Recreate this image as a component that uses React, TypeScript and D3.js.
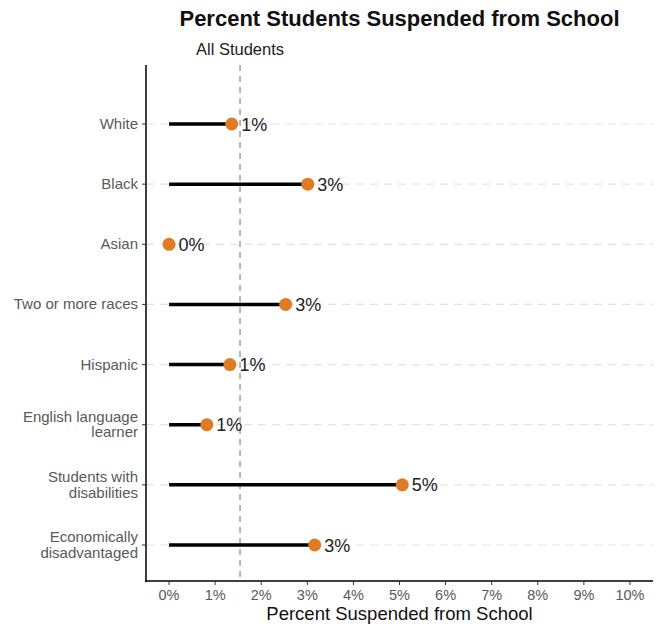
import React from "react";
import * as d3 from "d3";

const categories: string[][] = [
  ["White"],
  ["Black"],
  ["Asian"],
  ["Two or more races"],
  ["Hispanic"],
  ["English language", "learner"],
  ["Students with", "disabilities"],
  ["Economically", "disadvantaged"],
];
const values: number[] = [1.36, 3.01, 0.0, 2.53, 1.32, 0.82, 5.06, 3.16];
const valueLabels: string[] = ["1%", "3%", "0%", "3%", "1%", "1%", "5%", "3%"];
const allStudents = 1.54;
const xTicks: number[] = [0, 1, 2, 3, 4, 5, 6, 7, 8, 9, 10];

const W = 658;
const H = 624;
const left = 146;
const right = 653;
const top = 65;
const bottom = 581;

export default function App() {
  const x = d3.scaleLinear().domain([-0.5, 10.5]).range([left, right]);
  const idx = categories.map((_, i) => String(i));
  const y = d3.scalePoint<string>().domain(idx).range([124, 545]);
  const font = "'Liberation Sans', Arial, Helvetica, sans-serif";
  const orange = "#E07B25";

  return (
    <svg
      width={W}
      height={H}
      style={{ position: "absolute", left: 0, top: 0, background: "#fff" }}
      fontFamily={font}
    >
      <text x={(left + right) / 2} y={26} textAnchor="middle" fontSize={22} fontWeight="bold" fill="#111">
        Percent Students Suspended from School
      </text>

      {/* gridlines */}
      {idx.map((k) => (
        <line key={"g" + k} x1={left} x2={right} y1={y(k)} y2={y(k)} stroke="#e3e3e3" strokeWidth={1.2} strokeDasharray="8,6" />
      ))}

      {/* all students line */}
      <line x1={x(allStudents)} x2={x(allStudents)} y1={top} y2={bottom} stroke="#888" strokeWidth={1.2} strokeDasharray="6,5" />
      <text x={x(allStudents)} y={55} textAnchor="middle" fontSize={16.5} fill="#222">
        All Students
      </text>

      {/* segments and dots */}
      {values.map((v, i) => (
        <g key={"s" + i}>
          <line x1={x(0)} x2={x(v)} y1={y(String(i))} y2={y(String(i))} stroke="#000" strokeWidth={3.5} />
          <circle cx={x(v)} cy={y(String(i))} r={6.5} fill={orange} />
          <text x={x(v) + 9.5} y={y(String(i))! + 6.5} fontSize={18} fill="#222">
            {valueLabels[i]}
          </text>
        </g>
      ))}

      {/* axes */}
      <line x1={left} x2={left} y1={top} y2={bottom + 1} stroke="#000" strokeWidth={1.5} />
      <line x1={left - 1} x2={right} y1={bottom} y2={bottom} stroke="#000" strokeWidth={1.5} />

      {idx.map((k, i) => {
        const lines = categories[i];
        const yy = y(k)!;
        const lh = 15.5;
        const start = yy - ((lines.length - 1) * lh) / 2 + 5;
        return (
          <g key={"yl" + k}>
            <line x1={left - 4} x2={left} y1={yy} y2={yy} stroke="#333" strokeWidth={1} />
            <text textAnchor="end" fontSize={15} fill="#595959">
              {lines.map((t, j) => (
                <tspan key={j} x={left - 8} y={start + j * lh}>
                  {t}
                </tspan>
              ))}
            </text>
          </g>
        );
      })}

      {xTicks.map((t) => (
        <g key={"xt" + t}>
          <line x1={x(t)} x2={x(t)} y1={bottom} y2={bottom + 4} stroke="#333" strokeWidth={1} />
          <text x={x(t)} y={bottom + 19} textAnchor="middle" fontSize={14.5} fill="#595959">
            {t + "%"}
          </text>
        </g>
      ))}

      <text x={(left + right) / 2} y={620} textAnchor="middle" fontSize={18.5} fill="#111">
        Percent Suspended from School
      </text>
    </svg>
  );
}
